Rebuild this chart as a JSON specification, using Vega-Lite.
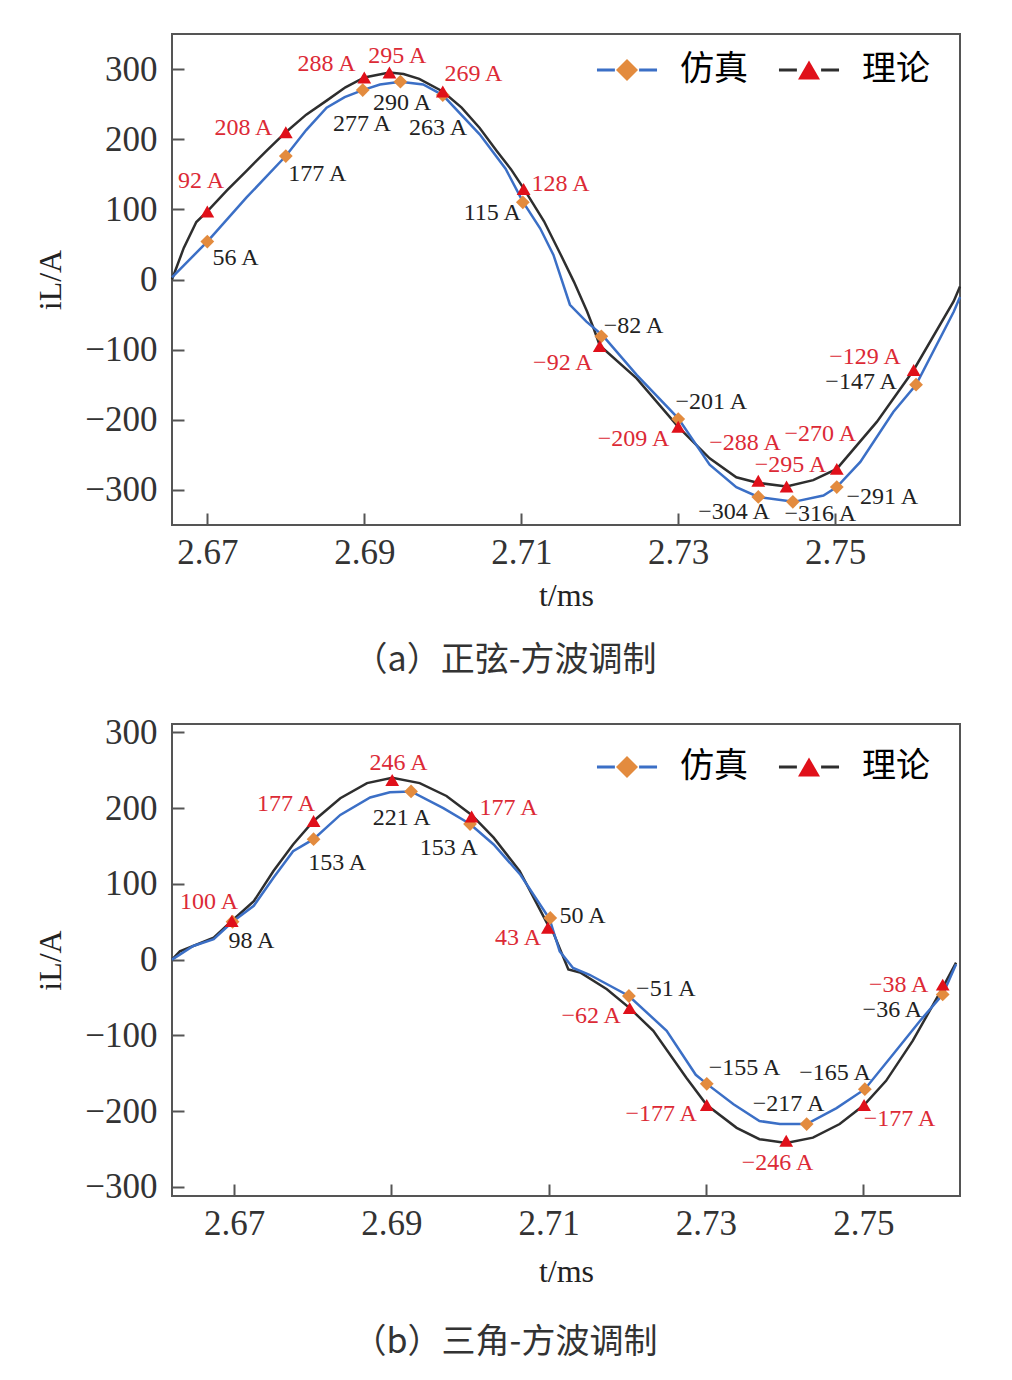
{
  "$schema": "https://vega.github.io/schema/vega-lite/v6.json",
  "background": "white",
  "padding": {"left": 33, "top": 33, "right": 10, "bottom": 5},
  "spacing": 35,
  "config": {
    "view": {"stroke": "#555", "strokeWidth": 2},
    "axis": {
      "labelFont": "Liberation Serif", "labelFontSize": 35, "labelColor": "#333",
      "titleFont": "Liberation Serif", "titleFontSize": 32, "titleFontWeight": "normal", "titleColor": "#222",
      "domain": false, "tickColor": "#555", "tickWidth": 2, "tickSize": -12, "grid": false
    },
    "legend": {"padding": 0}
  },
  "datasets": {
    "curveA": [
      {"t": 2.6655, "i": 0, "s": "理论"}, {"t": 2.6670, "i": 45, "s": "理论"}, {"t": 2.6686, "i": 82, "s": "理论"}, {"t": 2.6700, "i": 97, "s": "理论"},
      {"t": 2.6725, "i": 127, "s": "理论"}, {"t": 2.6750, "i": 155, "s": "理论"}, {"t": 2.6775, "i": 183, "s": "理论"}, {"t": 2.6800, "i": 210, "s": "理论"},
      {"t": 2.6826, "i": 235, "s": "理论"}, {"t": 2.6852, "i": 255, "s": "理论"}, {"t": 2.6876, "i": 274, "s": "理论"}, {"t": 2.6900, "i": 288, "s": "理论"},
      {"t": 2.6932, "i": 295, "s": "理论"}, {"t": 2.6950, "i": 293, "s": "理论"}, {"t": 2.6970, "i": 286, "s": "理论"}, {"t": 2.7000, "i": 268, "s": "理论"},
      {"t": 2.7024, "i": 245, "s": "理论"}, {"t": 2.7047, "i": 216, "s": "理论"}, {"t": 2.7069, "i": 183, "s": "理论"}, {"t": 2.7087, "i": 157, "s": "理论"},
      {"t": 2.7103, "i": 130, "s": "理论"}, {"t": 2.7129, "i": 83, "s": "理论"}, {"t": 2.7150, "i": 36, "s": "理论"}, {"t": 2.7167, "i": -3, "s": "理论"},
      {"t": 2.7184, "i": -46, "s": "理论"}, {"t": 2.7193, "i": -72, "s": "理论"}, {"t": 2.7200, "i": -94, "s": "理论"}, {"t": 2.7247, "i": -141, "s": "理论"},
      {"t": 2.7300, "i": -210, "s": "理论"}, {"t": 2.7340, "i": -255, "s": "理论"}, {"t": 2.7374, "i": -282, "s": "理论"}, {"t": 2.7402, "i": -290, "s": "理论"},
      {"t": 2.7438, "i": -295, "s": "理论"}, {"t": 2.7472, "i": -286, "s": "理论"}, {"t": 2.7502, "i": -270, "s": "理论"}, {"t": 2.7553, "i": -203, "s": "理论"},
      {"t": 2.7600, "i": -129, "s": "理论"}, {"t": 2.7651, "i": -31, "s": "理论"}, {"t": 2.7659, "i": -10, "s": "理论"},
      {"t": 2.6655, "i": 3, "s": "仿真"}, {"t": 2.6700, "i": 54, "s": "仿真"}, {"t": 2.6750, "i": 117, "s": "仿真"}, {"t": 2.6800, "i": 176, "s": "仿真"},
      {"t": 2.6826, "i": 213, "s": "仿真"}, {"t": 2.6852, "i": 245, "s": "仿真"}, {"t": 2.6875, "i": 260, "s": "仿真"}, {"t": 2.6898, "i": 270, "s": "仿真"},
      {"t": 2.6920, "i": 278, "s": "仿真"}, {"t": 2.6946, "i": 282, "s": "仿真"}, {"t": 2.6975, "i": 278, "s": "仿真"}, {"t": 2.7000, "i": 263, "s": "仿真"},
      {"t": 2.7047, "i": 207, "s": "仿真"}, {"t": 2.7080, "i": 158, "s": "仿真"}, {"t": 2.7102, "i": 111, "s": "仿真"}, {"t": 2.7124, "i": 73, "s": "仿真"},
      {"t": 2.7141, "i": 35, "s": "仿真"}, {"t": 2.7162, "i": -36, "s": "仿真"}, {"t": 2.7183, "i": -60, "s": "仿真"}, {"t": 2.7204, "i": -80, "s": "仿真"},
      {"t": 2.7247, "i": -136, "s": "仿真"}, {"t": 2.7300, "i": -198, "s": "仿真"}, {"t": 2.7340, "i": -264, "s": "仿真"}, {"t": 2.7374, "i": -296, "s": "仿真"},
      {"t": 2.7402, "i": -310, "s": "仿真"}, {"t": 2.7447, "i": -317, "s": "仿真"}, {"t": 2.7485, "i": -308, "s": "仿真"}, {"t": 2.7502, "i": -296, "s": "仿真"},
      {"t": 2.7532, "i": -260, "s": "仿真"}, {"t": 2.7574, "i": -189, "s": "仿真"}, {"t": 2.7603, "i": -150, "s": "仿真"}, {"t": 2.7651, "i": -46, "s": "仿真"},
      {"t": 2.7659, "i": -25, "s": "仿真"}
    ],
    "markA": [
      {"t": 2.6700, "i": 54, "s": "仿真"}, {"t": 2.6800, "i": 176, "s": "仿真"}, {"t": 2.6898, "i": 270, "s": "仿真"}, {"t": 2.6946, "i": 282, "s": "仿真"},
      {"t": 2.7000, "i": 263, "s": "仿真"}, {"t": 2.7102, "i": 110, "s": "仿真"}, {"t": 2.7202, "i": -81, "s": "仿真"}, {"t": 2.7300, "i": -199, "s": "仿真"},
      {"t": 2.7402, "i": -310, "s": "仿真"}, {"t": 2.7446, "i": -317, "s": "仿真"}, {"t": 2.7502, "i": -296, "s": "仿真"}, {"t": 2.7603, "i": -150, "s": "仿真"},
      {"t": 2.6700, "i": 97, "s": "理论"}, {"t": 2.6800, "i": 210, "s": "理论"}, {"t": 2.6900, "i": 288, "s": "理论"}, {"t": 2.6932, "i": 295, "s": "理论"},
      {"t": 2.7000, "i": 268, "s": "理论"}, {"t": 2.7103, "i": 129, "s": "理论"}, {"t": 2.7200, "i": -95, "s": "理论"}, {"t": 2.7300, "i": -210, "s": "理论"},
      {"t": 2.7402, "i": -287, "s": "理论"}, {"t": 2.7438, "i": -295, "s": "理论"}, {"t": 2.7502, "i": -270, "s": "理论"}, {"t": 2.7600, "i": -129, "s": "理论"}
    ],
    "labA": [
      {"t": 2.6692, "i": 140, "text": "92 A", "s": "理论"}, {"t": 2.6746, "i": 216, "text": "208 A", "s": "理论"},
      {"t": 2.6852, "i": 307, "text": "288 A", "s": "理论"}, {"t": 2.6942, "i": 319, "text": "295 A", "s": "理论"},
      {"t": 2.7039, "i": 293, "text": "269 A", "s": "理论"}, {"t": 2.7150, "i": 136, "text": "128 A", "s": "理论"},
      {"t": 2.7153, "i": -119, "text": "−92 A", "s": "理论"}, {"t": 2.7243, "i": -227, "text": "−209 A", "s": "理论"},
      {"t": 2.7385, "i": -233, "text": "−288 A", "s": "理论"}, {"t": 2.7481, "i": -220, "text": "−270 A", "s": "理论"},
      {"t": 2.7443, "i": -264, "text": "−295 A", "s": "理论"}, {"t": 2.7538, "i": -110, "text": "−129 A", "s": "理论"},
      {"t": 2.6736, "i": 30, "text": "56 A", "s": "仿真"}, {"t": 2.6840, "i": 150, "text": "177 A", "s": "仿真"},
      {"t": 2.6897, "i": 221, "text": "277 A", "s": "仿真"}, {"t": 2.6948, "i": 252, "text": "290 A", "s": "仿真"},
      {"t": 2.6994, "i": 216, "text": "263 A", "s": "仿真"}, {"t": 2.7063, "i": 95, "text": "115 A", "s": "仿真"},
      {"t": 2.7243, "i": -67, "text": "−82 A", "s": "仿真"}, {"t": 2.7342, "i": -174, "text": "−201 A", "s": "仿真"},
      {"t": 2.7533, "i": -146, "text": "−147 A", "s": "仿真"}, {"t": 2.7371, "i": -331, "text": "−304 A", "s": "仿真"},
      {"t": 2.7481, "i": -334, "text": "−316 A", "s": "仿真"}, {"t": 2.7560, "i": -310, "text": "−291 A", "s": "仿真"}
    ],
    "curveB": [
      {"t": 2.6621, "i": 0, "s": "理论"}, {"t": 2.6631, "i": 11, "s": "理论"}, {"t": 2.6648, "i": 18, "s": "理论"}, {"t": 2.6674, "i": 29, "s": "理论"},
      {"t": 2.6697, "i": 51, "s": "理论"}, {"t": 2.6725, "i": 77, "s": "理论"}, {"t": 2.6750, "i": 117, "s": "理论"}, {"t": 2.6775, "i": 152, "s": "理论"},
      {"t": 2.6801, "i": 183, "s": "理论"}, {"t": 2.6835, "i": 213, "s": "理论"}, {"t": 2.6869, "i": 233, "s": "理论"}, {"t": 2.6901, "i": 240, "s": "理论"},
      {"t": 2.6936, "i": 233, "s": "理论"}, {"t": 2.6970, "i": 216, "s": "理论"}, {"t": 2.7002, "i": 191, "s": "理论"}, {"t": 2.7030, "i": 161, "s": "理论"},
      {"t": 2.7063, "i": 117, "s": "理论"}, {"t": 2.7099, "i": 46, "s": "理论"}, {"t": 2.7106, "i": 35, "s": "理论"}, {"t": 2.7125, "i": -13, "s": "理论"},
      {"t": 2.7140, "i": -17, "s": "理论"}, {"t": 2.7174, "i": -39, "s": "理论"}, {"t": 2.7203, "i": -64, "s": "理论"}, {"t": 2.7233, "i": -94, "s": "理论"},
      {"t": 2.7275, "i": -156, "s": "理论"}, {"t": 2.7301, "i": -192, "s": "理论"}, {"t": 2.7339, "i": -222, "s": "理论"}, {"t": 2.7368, "i": -237, "s": "理论"},
      {"t": 2.7402, "i": -242, "s": "理论"}, {"t": 2.7436, "i": -235, "s": "理论"}, {"t": 2.7470, "i": -217, "s": "理论"}, {"t": 2.7501, "i": -192, "s": "理论"},
      {"t": 2.7529, "i": -160, "s": "理论"}, {"t": 2.7563, "i": -107, "s": "理论"}, {"t": 2.7601, "i": -37, "s": "理论"}, {"t": 2.7618, "i": -4, "s": "理论"},
      {"t": 2.6621, "i": 0, "s": "仿真"}, {"t": 2.6648, "i": 18, "s": "仿真"}, {"t": 2.6674, "i": 27, "s": "仿真"}, {"t": 2.6698, "i": 50, "s": "仿真"},
      {"t": 2.6725, "i": 71, "s": "仿真"}, {"t": 2.6750, "i": 108, "s": "仿真"}, {"t": 2.6775, "i": 143, "s": "仿真"}, {"t": 2.6801, "i": 159, "s": "仿真"},
      {"t": 2.6835, "i": 191, "s": "仿真"}, {"t": 2.6873, "i": 214, "s": "仿真"}, {"t": 2.6898, "i": 221, "s": "仿真"}, {"t": 2.6925, "i": 222, "s": "仿真"},
      {"t": 2.6966, "i": 200, "s": "仿真"}, {"t": 2.7000, "i": 179, "s": "仿真"}, {"t": 2.7030, "i": 152, "s": "仿真"}, {"t": 2.7064, "i": 112, "s": "仿真"},
      {"t": 2.7101, "i": 54, "s": "仿真"}, {"t": 2.7114, "i": 11, "s": "仿真"}, {"t": 2.7131, "i": -11, "s": "仿真"}, {"t": 2.7152, "i": -20, "s": "仿真"},
      {"t": 2.7202, "i": -48, "s": "仿真"}, {"t": 2.7250, "i": -94, "s": "仿真"}, {"t": 2.7287, "i": -152, "s": "仿真"}, {"t": 2.7301, "i": -164, "s": "仿真"},
      {"t": 2.7335, "i": -191, "s": "仿真"}, {"t": 2.7368, "i": -213, "s": "仿真"}, {"t": 2.7394, "i": -217, "s": "仿真"}, {"t": 2.7428, "i": -217, "s": "仿真"},
      {"t": 2.7466, "i": -196, "s": "仿真"}, {"t": 2.7502, "i": -171, "s": "仿真"}, {"t": 2.7538, "i": -125, "s": "仿真"}, {"t": 2.7572, "i": -81, "s": "仿真"},
      {"t": 2.7601, "i": -46, "s": "仿真"}, {"t": 2.7618, "i": -6, "s": "仿真"}
    ],
    "markB": [
      {"t": 2.6698, "i": 50, "s": "仿真"}, {"t": 2.6801, "i": 159, "s": "仿真"}, {"t": 2.6925, "i": 222, "s": "仿真"}, {"t": 2.7000, "i": 179, "s": "仿真"},
      {"t": 2.7102, "i": 55, "s": "仿真"}, {"t": 2.7202, "i": -48, "s": "仿真"}, {"t": 2.7301, "i": -164, "s": "仿真"}, {"t": 2.7428, "i": -217, "s": "仿真"},
      {"t": 2.7502, "i": -171, "s": "仿真"}, {"t": 2.7601, "i": -46, "s": "仿真"},
      {"t": 2.6697, "i": 51, "s": "理论"}, {"t": 2.6801, "i": 183, "s": "理论"}, {"t": 2.6901, "i": 237, "s": "理论"}, {"t": 2.7002, "i": 189, "s": "理论"},
      {"t": 2.7099, "i": 42, "s": "理论"}, {"t": 2.7203, "i": -64, "s": "理论"}, {"t": 2.7301, "i": -192, "s": "理论"}, {"t": 2.7402, "i": -239, "s": "理论"},
      {"t": 2.7501, "i": -192, "s": "理论"}, {"t": 2.7601, "i": -33, "s": "理论"}
    ],
    "labB": [
      {"t": 2.6668, "i": 76, "text": "100 A", "s": "理论"}, {"t": 2.6766, "i": 205, "text": "177 A", "s": "理论"},
      {"t": 2.6909, "i": 260, "text": "246 A", "s": "理论"}, {"t": 2.7049, "i": 200, "text": "177 A", "s": "理论"},
      {"t": 2.7061, "i": 29, "text": "43 A", "s": "理论"}, {"t": 2.7154, "i": -75, "text": "−62 A", "s": "理论"},
      {"t": 2.7243, "i": -204, "text": "−177 A", "s": "理论"}, {"t": 2.7391, "i": -268, "text": "−246 A", "s": "理论"},
      {"t": 2.7546, "i": -211, "text": "−177 A", "s": "理论"}, {"t": 2.7545, "i": -33, "text": "−38 A", "s": "理论"},
      {"t": 2.6722, "i": 24, "text": "98 A", "s": "仿真"}, {"t": 2.6831, "i": 128, "text": "153 A", "s": "仿真"},
      {"t": 2.6913, "i": 187, "text": "221 A", "s": "仿真"}, {"t": 2.6973, "i": 147, "text": "153 A", "s": "仿真"},
      {"t": 2.7143, "i": 57, "text": "50 A", "s": "仿真"}, {"t": 2.7249, "i": -39, "text": "−51 A", "s": "仿真"},
      {"t": 2.7349, "i": -143, "text": "−155 A", "s": "仿真"}, {"t": 2.7464, "i": -149, "text": "−165 A", "s": "仿真"},
      {"t": 2.7405, "i": -191, "text": "−217 A", "s": "仿真"}, {"t": 2.7537, "i": -66, "text": "−36 A", "s": "仿真"}
    ]
  },
  "resolve": {
    "scale": {"x": "independent", "y": "independent", "stroke": "independent", "fill": "independent", "shape": "independent"},
    "legend": {"stroke": "independent", "fill": "independent", "shape": "independent"}
  },
  "vconcat": [
    {
      "width": 788, "height": 491,
      "title": {"text": "（a）正弦-方波调制", "orient": "bottom", "anchor": "middle", "dx": -61, "offset": 33, "font": "Noto Sans CJK SC", "fontSize": 34, "fontWeight": "normal", "color": "#333"},
      "layer": [
        {
          "data": {"name": "curveA"},
          "mark": {"type": "line", "strokeWidth": 2.5},
          "encoding": {
            "x": {"field": "t", "type": "quantitative", "scale": {"domain": [2.6655, 2.7659], "nice": false, "zero": false},
                  "axis": {"values": [2.67, 2.69, 2.71, 2.73, 2.75], "format": ".2f", "title": "t/ms", "labelPadding": 22, "titlePadding": 10}},
            "y": {"field": "i", "type": "quantitative", "scale": {"domain": [-350, 350], "nice": false, "zero": false},
                  "axis": {"values": [-300, -200, -100, 0, 100, 200, 300], "title": "iL/A", "labelPadding": 27, "titlePadding": 17}},
            "stroke": {"field": "s", "type": "nominal", "scale": {"domain": ["仿真", "理论"], "range": ["#3b6fc6", "#2e2e2e"]},
                       "legend": {"orient": "none", "legendX": 438, "legendY": 19, "direction": "horizontal", "title": null,
                                  "symbolType": "M-2.73,0H-1.1M1.1,0H2.73", "symbolSize": 484, "symbolStrokeWidth": 3,
                                  "labelFont": "Noto Sans CJK SC", "labelFontSize": 34, "labelOffset": 36, "columnPadding": 92, "labelExpr": "''"}}
          }
        },
        {
          "data": {"name": "markA"},
          "mark": {"type": "point", "filled": true, "size": 190, "opacity": 1},
          "encoding": {
            "x": {"field": "t", "type": "quantitative"},
            "y": {"field": "i", "type": "quantitative"},
            "fill": {"field": "s", "type": "nominal", "scale": {"range": ["#e38b3e", "#e0101a"]},
                     "legend": {"orient": "none", "legendX": 438, "legendY": 19, "direction": "horizontal", "title": null,
                                "symbolSize": 484, "symbolStrokeWidth": 0,
                                "labelFont": "Noto Sans CJK SC", "labelFontSize": 34, "labelOffset": 36, "columnPadding": 44,
                                "encode": {"labels": {"update": {"fill": {"signal": "datum.value === '理论' ? '#d42030' : '#222222'"}}}}}},
            "shape": {"field": "s", "type": "nominal", "scale": {"range": ["diamond", "triangle-up"]},
                      "legend": {"orient": "none", "legendX": 438, "legendY": 19, "direction": "horizontal", "title": null,
                                 "symbolSize": 484, "symbolStrokeWidth": 0,
                                 "labelFont": "Noto Sans CJK SC", "labelFontSize": 34, "labelOffset": 36, "columnPadding": 44,
                                 "encode": {"labels": {"update": {"fill": {"signal": "datum.value === '理论' ? '#d42030' : '#222222'"}}}}}}
          }
        },
        {
          "data": {"name": "labA"},
          "mark": {"type": "text", "font": "Liberation Serif", "fontSize": 24, "align": "center", "baseline": "middle"},
          "encoding": {
            "x": {"field": "t", "type": "quantitative"},
            "y": {"field": "i", "type": "quantitative"},
            "text": {"field": "text"},
            "fill": {"condition": {"test": "datum.s === '理论'", "value": "#dc2a36"}, "value": "#222222"}
          }
        }
      ]
    },
    {
      "width": 788, "height": 472,
      "title": {"text": "（b）三角-方波调制", "orient": "bottom", "anchor": "middle", "dx": -61, "offset": 39, "font": "Noto Sans CJK SC", "fontSize": 34, "fontWeight": "normal", "color": "#333"},
      "layer": [
        {
          "data": {"name": "curveB"},
          "mark": {"type": "line", "strokeWidth": 2.5},
          "encoding": {
            "x": {"field": "t", "type": "quantitative", "scale": {"domain": [2.6621, 2.7623], "nice": false, "zero": false},
                  "axis": {"values": [2.67, 2.69, 2.71, 2.73, 2.75], "format": ".2f", "title": "t/ms", "labelPadding": 22, "titlePadding": 15}},
            "y": {"field": "i", "type": "quantitative", "scale": {"domain": [-312, 311], "nice": false, "zero": false},
                  "axis": {"values": [-300, -200, -100, 0, 100, 200, 300], "title": "iL/A", "labelPadding": 27, "titlePadding": 17}},
            "stroke": {"field": "s", "type": "nominal", "scale": {"domain": ["仿真", "理论"], "range": ["#3b6fc6", "#2e2e2e"]},
                       "legend": {"orient": "none", "legendX": 438, "legendY": 26, "direction": "horizontal", "title": null,
                                  "symbolType": "M-2.73,0H-1.1M1.1,0H2.73", "symbolSize": 484, "symbolStrokeWidth": 3,
                                  "labelFont": "Noto Sans CJK SC", "labelFontSize": 34, "labelOffset": 36, "columnPadding": 92, "labelExpr": "''"}}
          }
        },
        {
          "data": {"name": "markB"},
          "mark": {"type": "point", "filled": true, "size": 190, "opacity": 1},
          "encoding": {
            "x": {"field": "t", "type": "quantitative"},
            "y": {"field": "i", "type": "quantitative"},
            "fill": {"field": "s", "type": "nominal", "scale": {"range": ["#e38b3e", "#e0101a"]},
                     "legend": {"orient": "none", "legendX": 438, "legendY": 26, "direction": "horizontal", "title": null,
                                "symbolSize": 484, "symbolStrokeWidth": 0,
                                "labelFont": "Noto Sans CJK SC", "labelFontSize": 34, "labelOffset": 36, "columnPadding": 44,
                                "encode": {"labels": {"update": {"fill": {"signal": "datum.value === '理论' ? '#d42030' : '#222222'"}}}}}},
            "shape": {"field": "s", "type": "nominal", "scale": {"range": ["diamond", "triangle-up"]},
                      "legend": {"orient": "none", "legendX": 438, "legendY": 26, "direction": "horizontal", "title": null,
                                 "symbolSize": 484, "symbolStrokeWidth": 0,
                                 "labelFont": "Noto Sans CJK SC", "labelFontSize": 34, "labelOffset": 36, "columnPadding": 44,
                                 "encode": {"labels": {"update": {"fill": {"signal": "datum.value === '理论' ? '#d42030' : '#222222'"}}}}}}
          }
        },
        {
          "data": {"name": "labB"},
          "mark": {"type": "text", "font": "Liberation Serif", "fontSize": 24, "align": "center", "baseline": "middle"},
          "encoding": {
            "x": {"field": "t", "type": "quantitative"},
            "y": {"field": "i", "type": "quantitative"},
            "text": {"field": "text"},
            "fill": {"condition": {"test": "datum.s === '理论'", "value": "#dc2a36"}, "value": "#222222"}
          }
        }
      ]
    }
  ]
}
